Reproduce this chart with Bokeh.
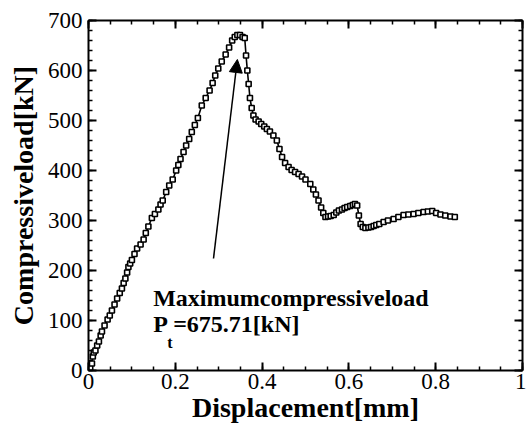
from bokeh.plotting import figure
from bokeh.models import (LinearAxis, FixedTicker, NumeralTickFormatter, Label,
                          Arrow, NormalHead, Range1d)
from bokeh.embed import file_html
from bokeh.resources import INLINE

# ---- data ----
displacement = [0.000, 0.004, 0.008, 0.010, 0.012, 0.016, 0.020, 0.024, 0.028, 0.031,
                0.037, 0.044, 0.049, 0.054, 0.060, 0.066, 0.072, 0.077, 0.081, 0.085,
                0.089, 0.092, 0.096, 0.100, 0.106, 0.112, 0.120, 0.127, 0.132, 0.138,
                0.146, 0.153, 0.161, 0.166, 0.171, 0.179, 0.186, 0.194, 0.202, 0.207,
                0.212, 0.219, 0.225, 0.232, 0.238, 0.245, 0.252, 0.261, 0.270, 0.279,
                0.286, 0.292, 0.299, 0.307, 0.316, 0.324, 0.331, 0.337, 0.343, 0.349,
                0.355, 0.360, 0.363, 0.366, 0.369, 0.372, 0.376, 0.380, 0.385, 0.392,
                0.398, 0.405, 0.411, 0.418, 0.426, 0.434, 0.440, 0.446, 0.453, 0.461,
                0.468, 0.476, 0.484, 0.492, 0.500, 0.511, 0.518, 0.524, 0.530, 0.536,
                0.541, 0.546, 0.552, 0.558, 0.565, 0.571, 0.577, 0.584, 0.590, 0.596,
                0.603, 0.609, 0.614, 0.619, 0.623, 0.627, 0.632, 0.638, 0.645, 0.651,
                0.657, 0.663, 0.670, 0.680, 0.690, 0.703, 0.714, 0.726, 0.737, 0.749,
                0.760, 0.772, 0.782, 0.792, 0.801, 0.811, 0.822, 0.834, 0.844]
load = [0, 5, 14, 28, 36, 40, 50, 58, 70, 78,
        90, 102, 110, 120, 132, 144, 155, 164, 175, 184,
        196, 207, 214, 221, 233, 244, 252, 262, 275, 288,
        305, 313, 322, 332, 340, 357, 370, 382, 400, 411,
        423, 437, 450, 463, 477, 491, 505, 530, 545, 560,
        575, 590, 604, 618, 632, 646, 660, 667, 671, 671,
        667, 665, 630, 600, 573, 545, 525, 510, 502, 498,
        493, 488, 483, 478, 470, 460, 443, 427, 415, 407,
        401, 397, 393, 388, 382, 373, 362, 352, 340, 326,
        315, 307, 308, 309, 311, 316, 320, 322, 325, 327,
        329, 331, 333, 330, 310, 293, 287, 285, 286, 287,
        289, 291, 293, 297, 300, 303, 307, 311, 312, 313,
        315, 317, 318, 319, 315, 312, 310, 308, 307]

x_ticks = [0, 0.2, 0.4, 0.6, 0.8, 1.0]
x_minor = [0.05 * i for i in range(21)]
y_ticks = [0, 100, 200, 300, 400, 500, 600, 700]
y_minor = [20 * i for i in range(36)]

x_label = "Displacement[mm]"
y_label = "Compressiveload[kN]"
note_line1 = "Maximumcompressiveload"
note_p = "P"
note_sub = "t"
note_val = "=675.71[kN]"
arrow_tail = (0.288, 224)
arrow_tip = (0.343, 622)

FONT = "Liberation Serif"

p = figure(width=526, height=427, output_backend="svg", toolbar_location=None,
           x_range=Range1d(0, 1), y_range=Range1d(0, 700),
           min_border_left=88, min_border_right=4, min_border_top=20, min_border_bottom=57,
           x_axis_label=x_label, y_axis_label=y_label)
p.outline_line_color = None
p.grid.visible = False
p.background_fill_color = "white"
p.border_fill_color = "white"

def style_axis(ax, ticks, minor, show_labels=True):
    ax.ticker = FixedTicker(ticks=ticks, minor_ticks=minor)
    ax.axis_line_width = 2
    ax.axis_line_color = "black"
    ax.major_tick_in = 8
    ax.major_tick_out = 0
    ax.minor_tick_in = 4
    ax.minor_tick_out = 0
    ax.major_tick_line_width = 2
    ax.minor_tick_line_width = 1.5
    ax.major_tick_line_color = "black"
    ax.minor_tick_line_color = "black"
    ax.major_label_text_font = FONT
    ax.major_label_text_font_size = "23px"
    ax.major_label_text_color = "black" if show_labels else None
    ax.axis_label_text_font = FONT
    ax.axis_label_text_font_style = "bold"
    ax.axis_label_text_font_size = "28px"
    ax.axis_label_text_color = "black"

xb = p.xaxis[0]
yl = p.yaxis[0]
style_axis(xb, x_ticks, x_minor)
style_axis(yl, y_ticks, y_minor)
xb.formatter = NumeralTickFormatter(format="0.[0]")
xb.major_label_standoff = 3
xb.axis_label_standoff = 0
yl.major_label_standoff = 6
yl.axis_label_standoff = 6

xt = LinearAxis()
style_axis(xt, x_ticks, x_minor, show_labels=False)
p.add_layout(xt, "above")
yr = LinearAxis()
style_axis(yr, y_ticks, y_minor, show_labels=False)
p.add_layout(yr, "right")
xt.major_label_text_font_size = "0px"
yr.major_label_text_font_size = "0px"

p.line(displacement, load, line_color="black", line_width=1.6)
p.scatter(displacement, load, marker="square", size=5, fill_color="white",
          line_color="black", line_width=1.6)

p.add_layout(Arrow(end=NormalHead(size=13, fill_color="black", line_color="black"),
                   x_start=arrow_tail[0], y_start=arrow_tail[1],
                   x_end=arrow_tip[0], y_end=arrow_tip[1],
                   line_color="black", line_width=1.5))

def lab(x, y, text, size, dx=0, dy=0):
    p.add_layout(Label(x=x, y=y, text=text, text_font=FONT, text_font_style="bold",
                       text_font_size=size, text_color="black", text_baseline="alphabetic",
                       x_offset=dx, y_offset=dy))

lab(0.149, 146, note_line1, "24px")
lab(0.149, 94, note_p, "24px")
lab(0.149, 94, note_sub, "16px", dx=14, dy=-19)
lab(0.149, 94, note_val, "24px", dx=20)

open("out.html", "w").write(file_html(p, INLINE))
